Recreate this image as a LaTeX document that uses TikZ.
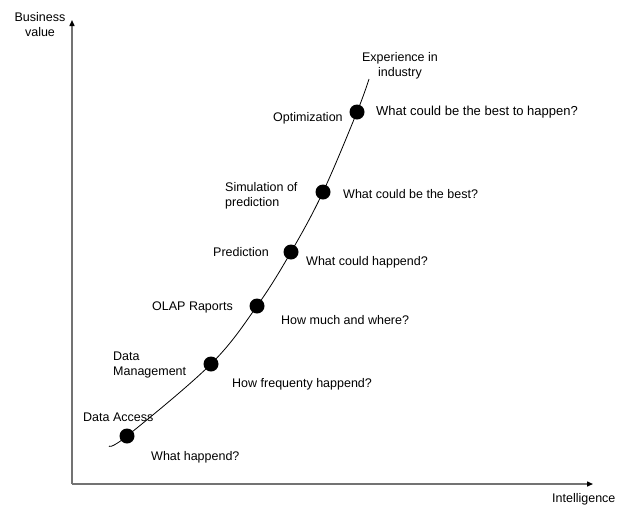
\documentclass[tikz,border=0pt]{standalone}
\usepackage{fontspec}
\setmainfont{Liberation Sans}
\usetikzlibrary{arrows.meta}

\tikzset{
  dot/.style={circle,fill=black,inner sep=0pt,minimum size=15pt},
  lbl/.style={anchor=base west,inner sep=0pt,align=left},
  axis/.style={draw=black!55,line width=1.4pt,-{Triangle[length=6pt,width=5pt,black]}}
}

\begin{document}
\begin{tikzpicture}[x=1pt,y=-1pt,font=\fontsize{12.5}{15}\selectfont]
\useasboundingbox (0,0) rectangle (621,504);
% axes
\coordinate (origin) at (72,484);
\coordinate (ytip) at (72,20);
\coordinate (xtip) at (593,484);
\draw[axis] (origin) -- (ytip);
\draw[axis] (origin) -- (xtip);
\node[anchor=base,inner sep=0pt,align=center] (yname) at (40,36) {Business\\value};
\node[lbl] (xname) at (552,502) {Intelligence};
% points on the curve
\node[dot] (acc) at (127,436) {};
\node[dot] (mgmt) at (211,364) {};
\node[dot] (olap) at (257,306) {};
\node[dot] (pred) at (291,252) {};
\node[dot] (sim) at (323,192) {};
\node[dot] (opt) at (357,112) {};
\coordinate (cstart) at (109,446);
\coordinate (cend) at (369,79);
\draw[line width=0.8pt] plot[smooth,tension=0.6] coordinates {(cstart) (acc.center) (mgmt.center) (olap.center) (pred.center) (sim.center) (opt.center) (cend)};
\node[anchor=base,inner sep=0pt,align=center] (exp) at (400,76) {Experience in\\industry};
% left labels
\node[lbl] (taccess) at (83,421) {Data Access};
\node[lbl] (tmgmt) at (113,375) {Data\\Management};
\node[lbl] (tolap) at (152,310) {OLAP Raports};
\node[lbl] (tpred) at (213,256) {Prediction};
\node[lbl] (tsim) at (225,206) {Simulation of\\prediction};
\node[lbl] (topt) at (273,121) {Optimization};
% questions
\node[lbl] (qacc) at (151,460) {What happend?};
\node[lbl] (qmgmt) at (232,387) {How frequenty happend?};
\node[lbl] (qolap) at (281,324) {How much and where?};
\node[lbl] (qpred) at (306,265) {What could happend?};
\node[lbl] (qsim) at (343,198) {What could be the best?};
\node[lbl,font=\fontsize{13}{15}\selectfont] (qopt) at (376,115) {What could be the best to happen?};
\end{tikzpicture}
\end{document}
